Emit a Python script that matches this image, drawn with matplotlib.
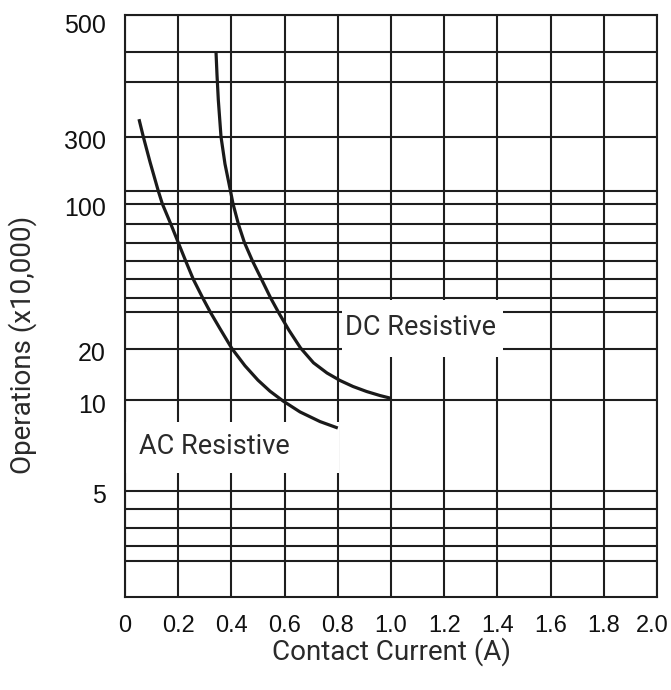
import numpy as np
import matplotlib
matplotlib.use("Agg")
import matplotlib.pyplot as plt
from matplotlib.transforms import ScaledTranslation
from matplotlib.patches import Rectangle

# ---------------- data ----------------
x_ticks = [0, 0.2, 0.4, 0.6, 0.8, 1.0, 1.2, 1.4, 1.6, 1.8, 2.0]
x_tick_labels = ["0", "0.2", "0.4", "0.6", "0.8", "1.0", "1.2", "1.4", "1.6", "1.8", "2.0"]
y_tick_values = [5, 10, 20, 100, 300, 500]
y_tick_labels = ["5", "10", "20", "100", "300", "500"]
grid_values = [1.5, 2, 3, 4, 5, 10, 20, 40, 50, 60, 70, 80, 90, 100, 200, 300, 400, 450]

ac_current = [0.0526, 0.0688, 0.094, 0.1252, 0.1402, 0.1729, 0.2004, 0.2282, 0.2568,
              0.2917, 0.3211, 0.3571, 0.4023, 0.4511, 0.500, 0.5451, 0.594, 0.6579,
              0.7331, 0.800]
ac_ops = [329, 300, 248.5, 200, 100, 90, 80, 70, 60,
          50, 40, 29.3, 20, 15.9, 13.1, 11.3, 9.95, 9.15,
          8.50, 8.09]

dc_current = [0.3421, 0.3459, 0.3508, 0.3609, 0.3759, 0.3966, 0.4060, 0.4267, 0.4492,
              0.4793, 0.5132, 0.5470, 0.5789, 0.6165, 0.6598, 0.7086, 0.7594, 0.8083,
              0.8571, 0.9086, 0.9586, 1.000]
dc_ops = [450, 411, 364, 300, 244.7, 200, 100, 90, 80,
          70, 60, 50, 39.3, 28.4, 20.3, 16.55, 14.43, 13.05,
          12.04, 11.25, 10.66, 10.27]

# ------------- irregular vertical scale of the printed chart -------------
scale_values = np.array([1, 1.5, 2, 3, 4, 5, 10, 20, 40, 50, 60, 70, 80, 90, 100, 200, 300, 400, 450, 500])
scale_pos = np.array([0.0, 36.0, 51.6, 69.6, 88.0, 106.3, 197.0, 248.6, 285.0, 299.6,
                      318.0, 336.3, 354.6, 372.8, 393.6, 406.3, 460.6, 515.3, 545.6, 582.6])


def fwd(v):
    v = np.clip(np.asarray(v, dtype=float), 1e-6, None)
    return np.interp(np.log(v), np.log(scale_values), scale_pos)


def inv(p):
    return np.exp(np.interp(np.asarray(p, dtype=float), scale_pos, np.log(scale_values)))


# ---------------- figure ----------------
W, H = 671, 690
fig = plt.figure(figsize=(W / 100, H / 100), dpi=100)
ax = fig.add_axes([125 / W, 1 - 597.3 / H, 532 / W, 582.6 / H])
ax.set_yscale("function", functions=(fwd, inv))
ax.set_xlim(0, 2.0)
ax.set_ylim(1, 500)

line_col = "#1e1e1e"
ax.set_xticks(x_ticks)
ax.set_xticklabels(x_tick_labels)
ax.set_yticks(y_tick_values)
ax.set_yticklabels(y_tick_labels)
ax.set_yticks(grid_values, minor=True)
ax.tick_params(axis="both", which="both", length=0)
ax.tick_params(axis="x", pad=13)
ax.tick_params(axis="y", pad=14)
for lab in ax.get_xticklabels():
    lab.set_fontfamily("Liberation Sans")
    lab.set_fontsize(17)
    lab.set_color("#111111")
for lab in ax.get_yticklabels():
    lab.set_fontfamily("Liberation Sans")
    lab.set_fontsize(18)
    lab.set_color("#111111")

ax.grid(True, which="both", color=line_col, linewidth=1.5)
ax.set_axisbelow(True)
for s in ax.spines.values():
    s.set_linewidth(1.5)
    s.set_color(line_col)

# shift y tick labels slightly downward like the original
for val, lab in zip(y_tick_values, ax.get_yticklabels()):
    dy = -9 / 100 if val == 500 else -3 / 100
    lab.set_transform(lab.get_transform() + ScaledTranslation(0, dy, fig.dpi_scale_trans))
# keep the last x label inside the figure
last = ax.get_xticklabels()[-1]
last.set_transform(last.get_transform() + ScaledTranslation(-5 / 100, 0, fig.dpi_scale_trans))

# label boxes (white, hiding grid)
ax.add_patch(Rectangle((0.002, 0.2128), 0.4003, 0.0886, transform=ax.transAxes,
                       facecolor="white", edgecolor="none", zorder=2))
ax.add_patch(Rectangle((0.4079, 0.413), 0.3026, 0.097, transform=ax.transAxes,
                       facecolor="white", edgecolor="none", zorder=2))

ax.plot(ac_current, ac_ops, color="#1a1a1a", linewidth=2.3, zorder=3,
        solid_capstyle="butt", solid_joinstyle="round")
ax.plot(dc_current, dc_ops, color="#1a1a1a", linewidth=2.3, zorder=3,
        solid_capstyle="butt", solid_joinstyle="round")

txt_font = "Roboto"
ax.text(0.1673, 0.258, "AC Resistive", transform=ax.transAxes, ha="center", va="center",
        fontsize=19.5, family=txt_font, color="#2a2a2a", zorder=4)
ax.text(0.5555, 0.4636, "DC Resistive", transform=ax.transAxes, ha="center", va="center",
        fontsize=19.5, family=txt_font, color="#2a2a2a", zorder=4)

ax.set_xlabel("Contact Current (A)", fontsize=20, family=txt_font, color="#2a2a2a")
ax.set_ylabel("Operations (x10,000)", fontsize=20, family=txt_font, color="#2a2a2a")
ax.xaxis.label.set_va("center")
ax.yaxis.label.set_va("center")
ax.xaxis.set_label_coords(0.5, (597.3 - 652) / 582.6)
ax.yaxis.set_label_coords((23 - 125) / 532, (597.3 - 345) / 582.6)

fig.savefig("out.png", dpi=100)
